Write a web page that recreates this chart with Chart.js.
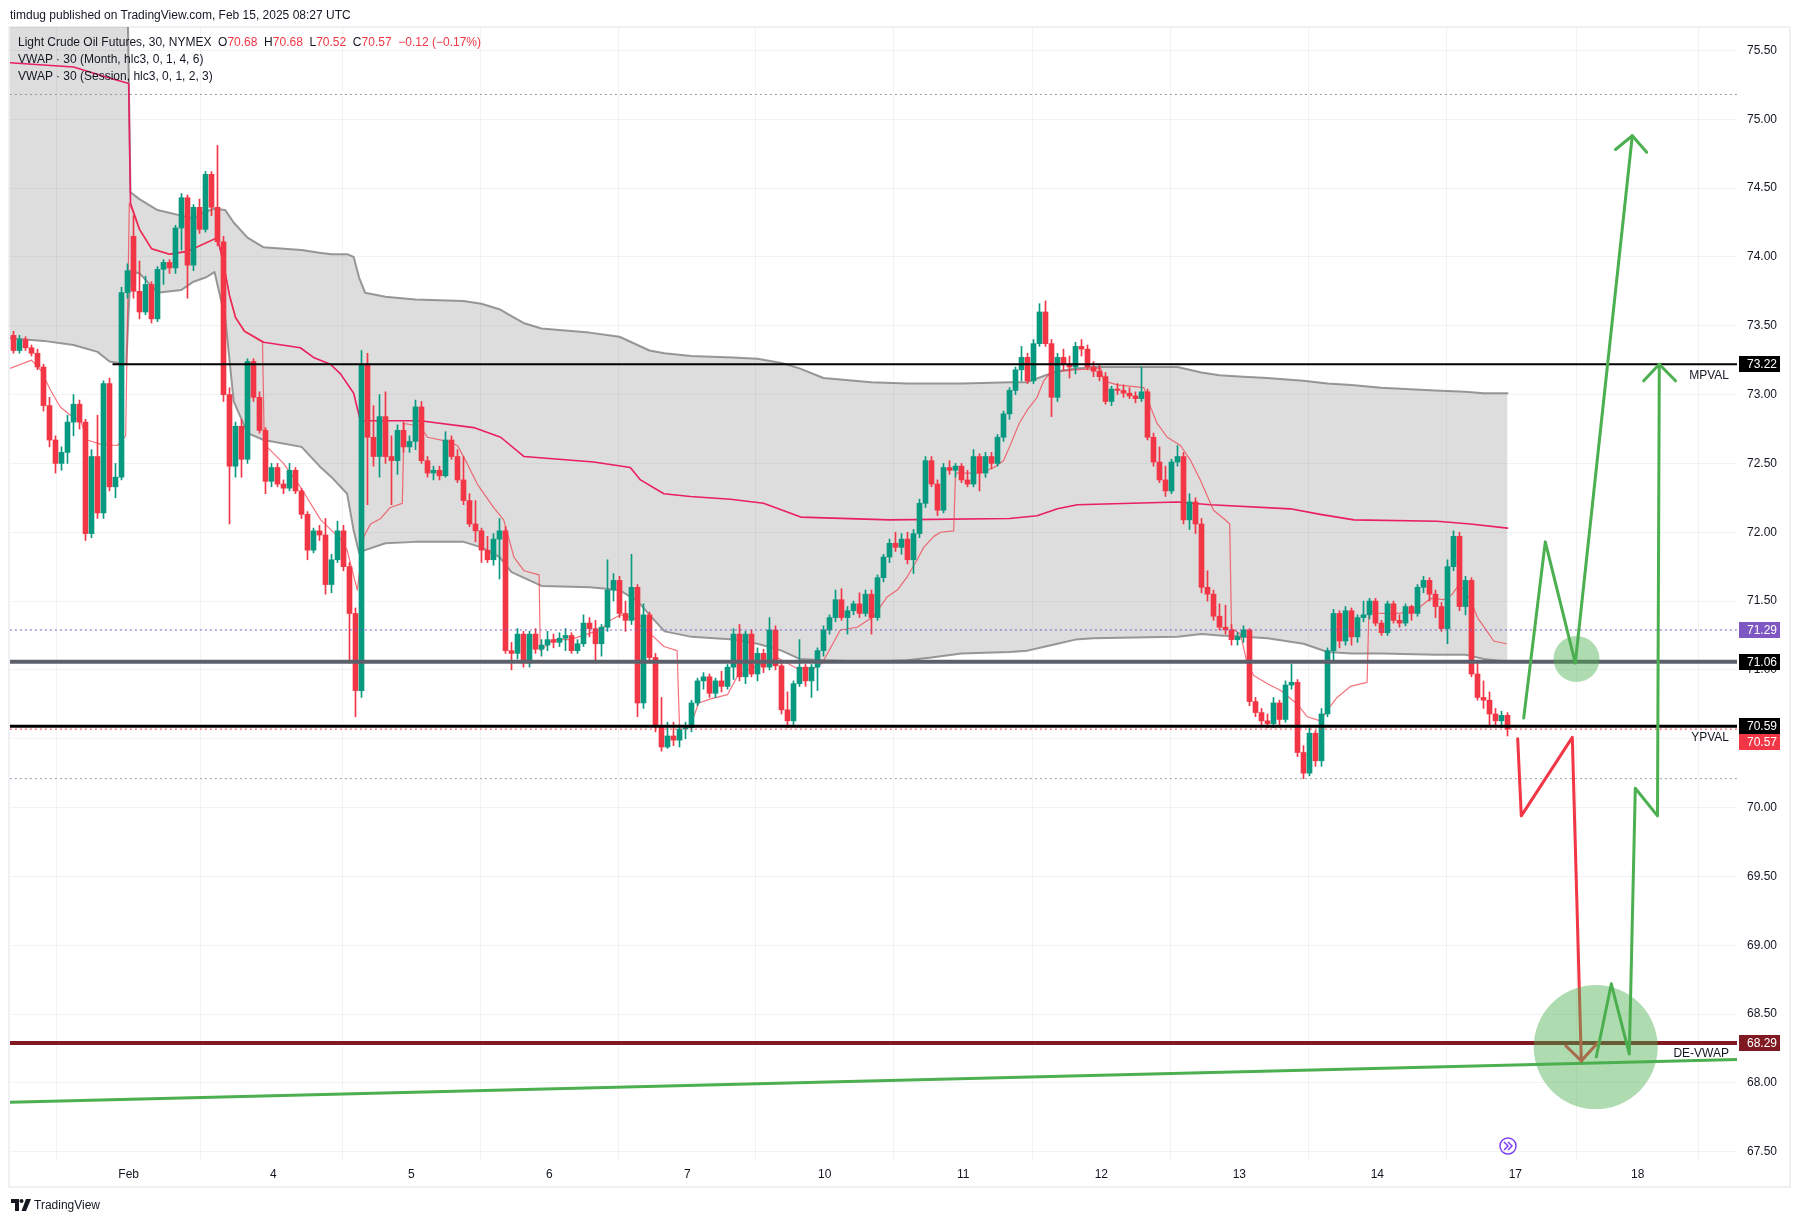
<!DOCTYPE html>
<html>
<head>
<meta charset="utf-8">
<title>Light Crude Oil Futures, 30, NYMEX</title>
<script src="https://cdn.jsdelivr.net/npm/chart.js@4.4.1/dist/chart.umd.min.js"></script>
<style>
  html, body { margin: 0; padding: 0; background: #fff; }
  #wrap { position: relative; width: 1800px; height: 1222px; font-family: "Liberation Sans", Arial, sans-serif; color: #131722; }
  #chart { position: absolute; left: 0; top: 0; }
  .txt { position: absolute; font-size: 12px; line-height: 14px; white-space: pre; }
  .r { color: #f23645; }
  #foot { position: absolute; left: 11px; top: 1199px; font-size: 12px; line-height: 12px; display: flex; align-items: center; gap: 3px; }
</style>
</head>
<body>
<div id="wrap">
  <canvas id="chart" width="1800" height="1222"></canvas>
  <div class="txt" style="left:10px;top:8px">timdug published on TradingView.com, Feb 15, 2025 08:27 UTC</div>
  <div class="txt" style="left:18px;top:35px">Light Crude Oil Futures, 30, NYMEX  O<span class="r">70.68</span>  H<span class="r">70.68</span>  L<span class="r">70.52</span>  C<span class="r">70.57</span>  <span class="r">−0.12 (−0.17%)</span></div>
  <div class="txt" style="left:18px;top:52px">VWAP · 30 (Month, hlc3, 0, 1, 4, 6)</div>
  <div class="txt" style="left:18px;top:69px">VWAP · 30 (Session, hlc3, 0, 1, 2, 3)</div>
  <div id="foot">
    <svg width="20" height="12" viewBox="0 0 20 12"><path d="M0 0h8v12h-4v-8H0z" fill="#131722"/><circle cx="10.5" cy="2" r="2" fill="#131722"/><path d="M15 0h5l-5 12h-4.5z" fill="#131722"/></svg>
    <span>TradingView</span>
  </div>
</div>
<script>
// hourly candles, Jan 31 -> Feb 14 (x = slot index)
let opens = [
  73.43, 73.32, 73.40, 73.34, 73.30, 73.20, 72.92, 72.67, 72.50, 72.58,
  72.80, 72.93, 72.80, 71.99, 72.55, 72.14, 73.08, 72.33, 72.40, 73.74,
  74.15, 73.75, 73.60, 73.80, 73.55, 73.91, 73.96, 73.92, 74.21, 74.43,
  73.94, 74.36, 74.20, 74.60, 74.36, 74.11, 73.00, 72.48, 72.77, 72.53,
  73.24, 72.98, 72.74, 72.37, 72.47, 72.35, 72.32, 72.45, 72.30, 72.13,
  71.87, 72.01, 71.98, 71.62, 71.80, 72.01, 71.75, 71.41, 70.85, 73.22,
  72.69, 72.55, 72.84, 72.55, 72.52, 72.74, 72.62, 72.66, 72.91, 72.52,
  72.43, 72.45, 72.41, 72.67, 72.55, 72.38, 72.23, 72.06, 72.01, 71.87,
  71.80, 71.95, 72.01, 71.14, 71.12, 71.26, 71.05, 71.26, 71.15, 71.18,
  71.22, 71.20, 71.23, 71.25, 71.14, 71.19, 71.34, 71.30, 71.19, 71.31,
  71.58, 71.65, 71.41, 71.36, 71.60, 70.76, 71.40, 71.09, 70.59, 70.44,
  70.52, 70.49, 70.57, 70.58, 70.76, 70.92, 70.95, 70.83, 70.92, 70.88,
  71.02, 71.26, 70.95, 71.26, 70.97, 71.12, 71.02, 71.29, 71.03, 70.71,
  70.63, 70.90, 71.02, 70.92, 71.02, 71.14, 71.29, 71.38, 71.51, 71.38,
  71.43, 71.48, 71.41, 71.55, 71.38, 71.67, 71.82, 71.92, 71.89, 71.95,
  71.80, 71.99, 72.21, 72.52, 72.35, 72.16, 72.47, 72.45, 72.48, 72.38,
  72.35, 72.55, 72.43, 72.55, 72.50, 72.69, 72.86, 73.03, 73.18, 73.27,
  73.10, 73.37, 73.60, 73.37, 72.98, 73.27, 73.22, 73.20, 73.35, 73.33,
  73.20, 73.17, 73.13, 72.95, 73.04, 73.03, 73.01, 72.99, 72.97, 73.02,
  72.69, 72.51, 72.38, 72.30, 72.51, 72.55, 72.09, 72.22, 72.06, 71.60,
  71.55, 71.39, 71.31, 71.29, 71.22, 71.24, 71.29, 70.77, 70.69, 70.63,
  70.61, 70.76, 70.64, 70.89, 70.91, 70.40, 70.25, 70.54, 70.34, 70.68,
  71.14, 71.41, 71.21, 71.43, 71.24, 71.38, 71.40, 71.50, 71.34, 71.27,
  71.48, 71.36, 71.34, 71.46, 71.41, 71.60, 71.65, 71.55, 71.46, 71.30,
  71.75, 71.97, 71.46, 71.65, 70.97, 70.80, 70.78, 70.68, 70.63, 70.67
];
let highs = [
  73.46, 73.43, 73.42, 73.36, 73.33, 73.22, 72.98, 72.70, 72.62, 72.85,
  73.00, 72.96, 72.82, 72.60, 72.85, 73.10, 73.12, 72.50, 73.78, 73.95,
  74.30, 73.97, 73.86, 73.82, 73.93, 73.98, 73.98, 74.23, 74.46, 74.45,
  74.38, 74.42, 74.62, 74.62, 74.81, 74.15, 73.05, 72.80, 72.82, 73.26,
  73.26, 73.02, 72.76, 72.50, 72.50, 72.38, 72.50, 72.47, 72.32, 72.15,
  72.03, 72.05, 72.10, 71.84, 72.08, 72.05, 71.78, 71.45, 73.32, 73.30,
  72.92, 73.00, 73.02, 72.70, 72.78, 72.80, 72.70, 72.96, 72.95, 72.55,
  72.48, 72.48, 72.73, 72.70, 72.60, 72.55, 72.28, 72.23, 72.03, 71.97,
  71.99, 72.10, 72.04, 71.20, 71.30, 71.28, 71.28, 71.30, 71.22, 71.28,
  71.26, 71.27, 71.30, 71.27, 71.22, 71.40, 71.38, 71.36, 71.33, 71.80,
  71.70, 71.68, 71.50, 71.84, 71.62, 71.48, 71.42, 71.12, 70.80, 70.62,
  70.62, 70.60, 70.62, 70.78, 70.94, 70.98, 70.97, 70.94, 70.99, 71.04,
  71.30, 71.33, 71.28, 71.29, 71.16, 71.15, 71.38, 71.32, 71.06, 70.84,
  70.92, 71.22, 71.04, 71.04, 71.16, 71.32, 71.40, 71.58, 71.59, 71.46,
  71.50, 71.56, 71.58, 71.58, 71.69, 71.84, 71.95, 72.00, 71.99, 72.00,
  72.02, 72.24, 72.55, 72.55, 72.38, 72.50, 72.52, 72.50, 72.50, 72.45,
  72.60, 72.57, 72.58, 72.58, 72.71, 72.88, 73.05, 73.20, 73.35, 73.30,
  73.40, 73.66, 73.68, 73.40, 73.30, 73.33, 73.28, 73.38, 73.40, 73.36,
  73.24, 73.22, 73.16, 73.06, 73.08, 73.07, 73.05, 73.02, 73.20, 73.04,
  72.72, 72.62, 72.48, 72.53, 72.63, 72.58, 72.28, 72.25, 72.10, 71.72,
  71.58, 71.48, 71.47, 71.33, 71.27, 71.32, 71.30, 70.80, 70.72, 70.68,
  70.80, 70.78, 70.92, 71.04, 70.93, 70.45, 70.58, 70.56, 70.72, 71.16,
  71.44, 71.43, 71.46, 71.45, 71.40, 71.50, 71.52, 71.52, 71.36, 71.50,
  71.50, 71.40, 71.48, 71.47, 71.62, 71.68, 71.67, 71.58, 71.49, 71.80,
  72.01, 72.00, 71.68, 71.67, 71.05, 70.92, 70.84, 70.72, 70.70, 70.69
];
let lows = [
  73.30, 73.30, 73.32, 73.28, 73.18, 72.88, 72.62, 72.43, 72.45, 72.50,
  72.70, 72.75, 71.94, 71.96, 72.10, 72.10, 72.30, 72.25, 72.38, 73.70,
  73.70, 73.55, 73.58, 73.52, 73.53, 73.80, 73.88, 73.88, 74.05, 73.70,
  73.90, 74.17, 74.18, 74.30, 74.08, 72.95, 72.06, 72.40, 72.40, 72.50,
  72.95, 72.72, 72.28, 72.33, 72.33, 72.28, 72.30, 72.28, 72.10, 71.80,
  71.85, 71.94, 71.55, 71.56, 71.78, 71.72, 71.05, 70.66, 70.80, 72.20,
  72.48, 72.40, 72.50, 72.20, 72.42, 72.58, 72.58, 72.60, 72.50, 72.40,
  72.38, 72.38, 72.40, 72.53, 72.36, 72.20, 72.04, 71.93, 71.78, 71.78,
  71.76, 71.66, 71.12, 71.00, 71.08, 71.02, 71.02, 71.12, 71.10, 71.14,
  71.16, 71.17, 71.14, 71.12, 71.12, 71.17, 71.24, 71.05, 71.10, 71.28,
  71.50, 71.38, 71.28, 71.33, 70.66, 70.72, 71.05, 70.55, 70.41, 70.43,
  70.45, 70.44, 70.50, 70.55, 70.74, 70.86, 70.80, 70.80, 70.84, 70.86,
  70.93, 70.92, 70.90, 70.95, 70.92, 70.98, 71.00, 71.00, 70.68, 70.58,
  70.60, 70.88, 70.88, 70.80, 70.85, 71.10, 71.26, 71.35, 71.36, 71.26,
  71.40, 71.38, 71.39, 71.26, 71.36, 71.64, 71.78, 71.86, 71.84, 71.77,
  71.70, 71.96, 72.18, 72.33, 72.12, 72.14, 72.42, 72.40, 72.36, 72.33,
  72.33, 72.30, 72.40, 72.46, 72.48, 72.66, 72.82, 73.00, 73.10, 73.08,
  73.08, 73.35, 73.35, 72.84, 72.95, 73.18, 73.12, 73.15, 73.28, 73.18,
  73.13, 73.10, 72.93, 72.92, 73.00, 72.98, 72.97, 72.94, 72.95, 72.67,
  72.48, 72.36, 72.26, 72.28, 72.48, 72.06, 72.02, 71.99, 71.56, 71.50,
  71.36, 71.29, 71.26, 71.18, 71.18, 71.20, 70.74, 70.66, 70.60, 70.58,
  70.58, 70.60, 70.62, 70.86, 70.37, 70.21, 70.23, 70.30, 70.30, 70.66,
  71.05, 71.16, 71.18, 71.18, 71.20, 71.35, 71.37, 71.32, 71.25, 71.25,
  71.34, 71.31, 71.32, 71.36, 71.39, 71.56, 71.50, 71.38, 71.28, 71.19,
  71.72, 71.43, 71.40, 70.95, 70.78, 70.72, 70.60, 70.60, 70.58, 70.52
];
let closes = [
  73.32, 73.40, 73.34, 73.30, 73.20, 72.92, 72.67, 72.50, 72.58, 72.80,
  72.93, 72.80, 71.99, 72.55, 72.14, 73.08, 72.33, 72.40, 73.74, 73.90,
  73.75, 73.60, 73.80, 73.55, 73.91, 73.96, 73.92, 74.21, 74.43, 73.94,
  74.36, 74.20, 74.60, 74.36, 74.11, 73.00, 72.48, 72.77, 72.53, 73.24,
  72.98, 72.74, 72.37, 72.47, 72.35, 72.32, 72.45, 72.30, 72.13, 71.87,
  72.01, 71.98, 71.62, 71.80, 72.01, 71.75, 71.41, 70.85, 73.22, 72.69,
  72.55, 72.84, 72.55, 72.52, 72.74, 72.62, 72.66, 72.91, 72.52, 72.43,
  72.45, 72.41, 72.67, 72.55, 72.38, 72.23, 72.06, 72.01, 71.87, 71.80,
  71.95, 72.01, 71.14, 71.12, 71.26, 71.05, 71.26, 71.15, 71.18, 71.22,
  71.20, 71.23, 71.25, 71.14, 71.19, 71.34, 71.30, 71.19, 71.31, 71.58,
  71.65, 71.41, 71.36, 71.60, 70.76, 71.40, 71.09, 70.59, 70.44, 70.52,
  70.49, 70.57, 70.58, 70.76, 70.92, 70.95, 70.83, 70.92, 70.88, 71.02,
  71.26, 70.95, 71.26, 70.97, 71.12, 71.02, 71.29, 71.03, 70.71, 70.63,
  70.90, 71.02, 70.92, 71.02, 71.14, 71.29, 71.38, 71.51, 71.38, 71.43,
  71.48, 71.41, 71.55, 71.38, 71.67, 71.82, 71.92, 71.89, 71.95, 71.80,
  71.99, 72.21, 72.52, 72.35, 72.16, 72.47, 72.45, 72.48, 72.38, 72.35,
  72.55, 72.43, 72.55, 72.50, 72.69, 72.86, 73.03, 73.18, 73.27, 73.10,
  73.37, 73.60, 73.37, 72.98, 73.27, 73.22, 73.20, 73.35, 73.33, 73.20,
  73.17, 73.13, 72.95, 73.04, 73.03, 73.01, 72.99, 72.97, 73.02, 72.69,
  72.51, 72.38, 72.30, 72.51, 72.55, 72.09, 72.22, 72.06, 71.60, 71.55,
  71.39, 71.31, 71.29, 71.22, 71.24, 71.29, 70.77, 70.69, 70.63, 70.61,
  70.76, 70.64, 70.89, 70.91, 70.40, 70.25, 70.54, 70.34, 70.68, 71.14,
  71.41, 71.21, 71.43, 71.24, 71.38, 71.40, 71.50, 71.34, 71.27, 71.48,
  71.36, 71.34, 71.46, 71.41, 71.60, 71.65, 71.55, 71.46, 71.30, 71.75,
  71.97, 71.46, 71.65, 70.97, 70.80, 70.78, 70.68, 70.63, 70.67, 70.57
];

// monthly VWAP with its band (read at these slots)
let bandX = [-0.6, 5, 10, 14, 16, 18.8, 19.5, 21, 24, 28, 30, 32, 33.5, 35.3, 36.7, 39, 41.7, 48, 51, 53,
  55.6, 56.7, 57.6, 58.6, 62, 67, 75, 78, 81, 83, 85, 88, 96, 101, 104, 106, 108.5, 113, 120, 124,
  128, 131, 135, 143, 149, 153, 158, 166, 169, 172, 174, 177, 180, 194, 198, 201, 205, 209, 215, 219,
  223, 228, 237, 242, 245, 249];
let bandUpper = [76.5, 76.5, 76.5, 76.5, 76.5, 76.5, 74.47, 74.42, 74.34, 74.30, 74.28, 74.33, 74.35, 74.34, 74.25, 74.14, 74.07, 74.05, 74.03, 74.02,
  74.02, 74.00, 73.85, 73.74, 73.71, 73.69, 73.68, 73.66, 73.62, 73.57, 73.52, 73.48, 73.45, 73.42, 73.36, 73.32, 73.30, 73.28, 73.27, 73.26,
  73.23, 73.19, 73.12, 73.09, 73.08, 73.08, 73.08, 73.09, 73.09, 73.14, 73.17, 73.19, 73.20, 73.20, 73.16, 73.14, 73.13, 73.12, 73.10, 73.08,
  73.07, 73.05, 73.03, 73.02, 73.01, 73.01];
let bandLower = [73.41, 73.39, 73.36, 73.31, 73.24, 73.22, 73.90, 73.88, 73.74, 73.76, 73.82, 73.85, 73.89, 73.55, 72.95, 72.72, 72.67, 72.62, 72.48, 72.40,
  72.28, 72.01, 71.85, 71.87, 71.92, 71.93, 71.93, 71.89, 71.82, 71.71, 71.67, 71.61, 71.60, 71.58, 71.50, 71.40, 71.28, 71.24, 71.22, 71.19,
  71.14, 71.08, 71.07, 71.06, 71.07, 71.09, 71.12, 71.13, 71.14, 71.17, 71.19, 71.22, 71.23, 71.24, 71.26, 71.25, 71.24, 71.23, 71.19, 71.13,
  71.12, 71.12, 71.11, 71.11, 71.08, 71.06];
let monthX = [-0.6, 10, 16, 19.2, 19.5, 21, 23, 26, 29, 32, 34, 35, 36, 37, 38.5, 41.7, 47.8, 50, 52.8, 54.5,
  56.7, 57.8, 67.8, 76.7, 81.2, 85.1, 96.7, 102.8, 104.5, 108.4, 112.8, 119.5, 125, 131.2, 146, 166, 170.6, 174, 177.3, 194,
  199.5, 212.8, 217.8, 223.4, 237.3, 242.8, 249];
let monthVwap = [75.41, 75.38, 75.30, 75.26, 74.39, 74.20, 74.06, 74.02, 74.04, 74.10, 74.14, 73.95, 73.72, 73.56, 73.46, 73.38, 73.34, 73.27, 73.22, 73.15,
  73.01, 72.81, 72.81, 72.76, 72.69, 72.55, 72.51, 72.47, 72.38, 72.28, 72.26, 72.24, 72.21, 72.11, 72.09, 72.10, 72.12, 72.17, 72.20, 72.22,
  72.20, 72.17, 72.13, 72.09, 72.08, 72.06, 72.03];

// session VWAP (resets each session)
let sessionX = [-0.6, 3.0, 4.5, 6.2, 7.8, 9.5, 11.2, 12.3, 14.5, 17.3,
  18.7, 19.3, 21, 23, 26, 29, 32, 34, 35, 36,
  37, 38.5, 41.5, 41.8, 45, 47.8, 51.2, 54.5, 55.6, 57,
  57.3, 58.4, 59.5, 61.2, 62.8, 64.8, 65.1, 67.8, 69, 72.3,
  74, 75.6, 77.3, 80, 81.7, 83.4, 85.1, 87.6, 87.8, 90,
  92.8, 95.6, 97.8, 99.5, 101.2, 103.4, 104.5, 106.2, 108.4, 110.6,
  111, 112.8, 114.2, 116.2, 119, 120.6, 122.8, 125.6, 127.3, 128.9,
  130.6, 133.4, 134.8, 137.8, 140.6, 143.4, 145.6, 147.3, 149, 150.6,
  151.7, 153.4, 154.5, 156.7, 157, 161.2, 163.4, 165, 166.2, 167.6,
  169, 170.6, 171.7, 172.8, 176.7, 181.2, 181.7, 184, 188.4, 189.5,
  190.6, 192.3, 194.5, 196.2, 197.8, 199, 200, 201.7, 202.7, 203,
  204.5, 205.6, 206.7, 209, 211.2, 214, 215.6, 217.8, 219, 220.6,
  222.8, 225.6, 225.9, 227.8, 230.6, 233.4, 234.5, 236.2, 238.4, 239.8,
  240.6, 241.7, 242.8, 244, 245.6, 246.7, 248.8];
let sessionVwap = [73.19, 73.25, 73.18, 73.03, 72.91, 72.85, 72.81, 72.67, 72.64, 72.63,
  72.70, 74.39, 74.20, 74.06, 74.02, 74.04, 74.10, 74.14, 73.95, 73.72,
  73.56, 73.46, 73.38, 72.64, 72.50, 72.33, 72.09, 71.95, 71.87, 71.63,
  71.58, 71.97, 72.06, 72.10, 72.18, 72.21, 72.79, 72.77, 72.69, 72.66,
  72.63, 72.50, 72.35, 72.18, 72.09, 71.82, 71.72, 71.69, 71.14, 71.22,
  71.22, 71.26, 71.29, 71.36, 71.40, 71.38, 71.32, 71.26, 71.17, 71.14,
  70.59, 70.59, 70.76, 70.79, 70.82, 70.95, 71.01, 71.06, 71.09, 71.05,
  71.01, 71.01, 71.05, 71.29, 71.31, 71.39, 71.53, 71.58, 71.68, 71.80,
  71.89, 71.97, 72.00, 72.01, 72.43, 72.43, 72.47, 72.52, 72.64, 72.79,
  72.89, 72.98, 73.10, 73.16, 73.18, 73.19, 73.10, 73.07, 73.05, 72.91,
  72.79, 72.69, 72.63, 72.52, 72.38, 72.26, 72.16, 72.10, 72.06, 71.30,
  71.26, 71.05, 70.96, 70.90, 70.85, 70.75, 70.66, 70.63, 70.71, 70.80,
  70.88, 70.91, 71.43, 71.41, 71.41, 71.42, 71.46, 71.52, 71.51, 71.55,
  71.60, 71.59, 71.51, 71.38, 71.28, 71.21, 71.19];

// drawn levels
let levelPrices = [73.22, 71.06, 70.59, 68.29];
let levelStartX = [16.5, -0.6, -0.6, -0.6];
let dottedPrices = [75.18, 71.29, 70.57, 70.21];
let trendX = [-0.6, 287.25];
let trendY = [67.86, 68.17];

// projected paths
let greenUpX = [251.7, 255.3, 260.3, 269.8];
let greenUpY = [70.65, 71.93, 71.05, 74.88];
let greenUpHeadX = [267.0, 269.8, 272.2];
let greenUpHeadY = [74.78, 74.88, 74.76];
let greenDownX = [263.8, 266.3, 269.3, 270.3, 274.0, 274.3];
let greenDownY = [68.19, 68.72, 68.21, 70.14, 69.94, 73.22];
let greenDownHeadX = [271.7, 274.3, 277.0];
let greenDownHeadY = [73.10, 73.22, 73.10];
let redX = [250.7, 251.3, 259.8, 261.3];
let redY = [70.50, 69.94, 70.51, 68.16];
let redHeadX = [258.7, 261.3, 264.0];
let redHeadY = [68.27, 68.16, 68.29];
let circleX = [260.5, 263.7];
let circleY = [71.08, 68.26];

// axis labels
let dayTickPos = [19.2, 43.3, 66.3, 89.3, 112.3, 135.2, 158.3, 181.3, 204.3, 227.3, 250.3, 270.7];
let dayTickLabels = ['Feb', '4', '5', '6', '7', '10', '11', '12', '13', '14', '17', '18'];
let tagPrices = [73.22, 71.29, 71.06, 70.59, 70.57, 68.29];
let levelNames = ['MPVAL', 'YPVAL', 'DE-VWAP'];
let levelNamePrices = [73.22, 70.59, 68.29];

// styles
let upColor = '#089981', downColor = '#f23645';
let tagColors = ['#000000', '#7e57c2', '#000000', '#000000', '#f23645', '#801922'];
let levelColors = ['#000000', '#5d606b', '#000000', '#801922'];
let levelWidths = [2, 4, 3, 4];
let dottedColors = ['#9598a1', '#7e57c2', '#f23645', '#9598a1'];
let circleRadii = [23, 62];
let FONT = '"Liberation Sans", Arial, sans-serif';

Chart.defaults.font.family = FONT;
Chart.defaults.font.size = 12;
Chart.defaults.color = '#131722';

let pts = (xs, ys) => xs.map((x, k) => ({ x: x, y: ys[k] }));
let candleColor = ctx => closes[ctx.dataIndex] >= opens[ctx.dataIndex] ? upColor : downColor;
let slots = closes.map((c, i) => i);

let lineSet = (data, color, width, order, extra) => Object.assign({
  type: 'line', data: data, borderColor: color, borderWidth: width, pointRadius: 0,
  tension: 0, fill: false, order: order, borderJoinStyle: 'round', borderCapStyle: 'round'
}, extra || {});

let datasets = [];
datasets.push({
  type: 'bubble', data: pts(circleX, circleY), radius: ctx => circleRadii[ctx.dataIndex],
  backgroundColor: 'rgba(76,175,80,0.45)', borderWidth: 0, hoverRadius: 0, order: 1
});
datasets.push(lineSet(pts(greenUpX, greenUpY), '#4caf50', 3, 2));
datasets.push(lineSet(pts(greenUpHeadX, greenUpHeadY), '#4caf50', 3, 2));
datasets.push(lineSet(pts(greenDownX, greenDownY), '#4caf50', 3, 2));
datasets.push(lineSet(pts(greenDownHeadX, greenDownHeadY), '#4caf50', 3, 2));
datasets.push(lineSet(pts(redX, redY), '#f23645', 3, 3));
datasets.push(lineSet(pts(redHeadX, redHeadY), '#f23645', 3, 3));
datasets.push(lineSet(pts(trendX, trendY), '#4caf50', 3, 4));
levelPrices.forEach((p, k) => {
  datasets.push(lineSet([{ x: levelStartX[k], y: p }, { x: 287.25, y: p }], levelColors[k], levelWidths[k], 5 + k, { borderCapStyle: 'butt' }));
});
dottedPrices.forEach((p, k) => {
  datasets.push(lineSet([{ x: -0.6, y: p }, { x: 287.25, y: p }], dottedColors[k], 1, 10 + k, { borderDash: [2, 3], borderCapStyle: 'butt' }));
});
datasets.push({
  type: 'bar', data: slots.map(i => ({ x: i, y: [opens[i], closes[i]] })),
  backgroundColor: candleColor, barThickness: 5, minBarLength: 1, grouped: false, order: 20
});
datasets.push({
  type: 'bar', data: slots.map(i => ({ x: i, y: [lows[i], highs[i]] })),
  backgroundColor: candleColor, barThickness: 1, grouped: false, order: 21
});
datasets.push(lineSet(pts(sessionX, sessionVwap), 'rgba(242,54,69,0.7)', 1.2, 30));
datasets.push(lineSet(pts(monthX, monthVwap), '#e91e63', 1.6, 31));
datasets.push(lineSet(pts(bandX, bandUpper), 'rgba(120,120,120,0.75)', 2, 40, { fill: '+1', backgroundColor: 'rgba(128,128,128,0.27)' }));
datasets.push(lineSet(pts(bandX, bandLower), 'rgba(120,120,120,0.75)', 2, 41));

let decorations = {
  id: 'decorations',
  beforeDraw(chart) {
    let c = chart.ctx;
    c.save();
    c.fillStyle = '#ffffff';
    c.fillRect(0, 0, chart.width, chart.height);
    c.strokeStyle = '#eef0f3';
    c.lineWidth = 2;
    c.strokeRect(9, 27, 1781, 1160);
    c.restore();
  },
  afterDraw(chart) {
    let c = chart.ctx, ca = chart.chartArea, ys = chart.scales.y;
    c.save();
    c.font = '12px ' + FONT;
    c.textBaseline = 'middle';
    // level names
    c.fillStyle = '#131722';
    c.textAlign = 'right';
    levelNames.forEach((n, k) => {
      c.fillText(n, ca.right - 8, ys.getPixelForValue(levelNamePrices[k]) + 11);
    });
    // price tags
    c.textAlign = 'left';
    let last = -100;
    tagPrices.forEach((p, k) => {
      let y = ys.getPixelForValue(p);
      if (y < last + 16) y = last + 16;
      last = y;
      c.fillStyle = tagColors[k];
      c.fillRect(ca.right + 2, Math.round(y) - 8, 41, 16);
      c.fillStyle = '#ffffff';
      c.fillText(p.toFixed(2), ca.right + 10, Math.round(y) + 1);
    });
    // scroll-to-realtime button
    let bx = ca.left + 1498, by = ca.bottom - 14;
    c.strokeStyle = '#7b3ff2';
    c.lineWidth = 1.5;
    c.beginPath();
    c.arc(bx, by, 8, 0, Math.PI * 2);
    c.stroke();
    c.beginPath();
    c.moveTo(bx - 4, by - 4); c.lineTo(bx, by); c.lineTo(bx - 4, by + 4);
    c.moveTo(bx, by - 4); c.lineTo(bx + 4, by); c.lineTo(bx, by + 4);
    c.stroke();
    c.restore();
  }
};

new Chart(document.getElementById('chart'), {
  type: 'bar',
  data: { datasets: datasets },
  options: {
    responsive: false,
    animation: false,
    devicePixelRatio: 1,
    events: [],
    layout: { autoPadding: false, padding: { left: 10, right: 10, top: 27, bottom: 35 } },
    plugins: { legend: { display: false }, tooltip: { enabled: false } },
    scales: {
      x: {
        type: 'linear', min: -0.583, max: 287.25, offset: false,
        afterBuildTicks: s => { s.ticks = dayTickPos.map(v => ({ value: v })); },
        afterFit: s => { s.height = 27; },
        ticks: { callback: (v, i) => dayTickLabels[i], autoSkip: false, maxRotation: 0, padding: 7, color: '#131722' },
        grid: { color: 'rgba(42,46,57,0.06)', drawTicks: false },
        border: { display: false }
      },
      y: {
        type: 'linear', position: 'right', min: 67.44, max: 75.67,
        afterFit: s => { s.width = 53; },
        ticks: { stepSize: 0.5, includeBounds: false, padding: 10, color: '#131722', callback: v => v.toFixed(2) },
        grid: { color: 'rgba(42,46,57,0.06)', drawTicks: false },
        border: { display: false }
      }
    }
  },
  plugins: [decorations]
});
</script>
</body>
</html>
